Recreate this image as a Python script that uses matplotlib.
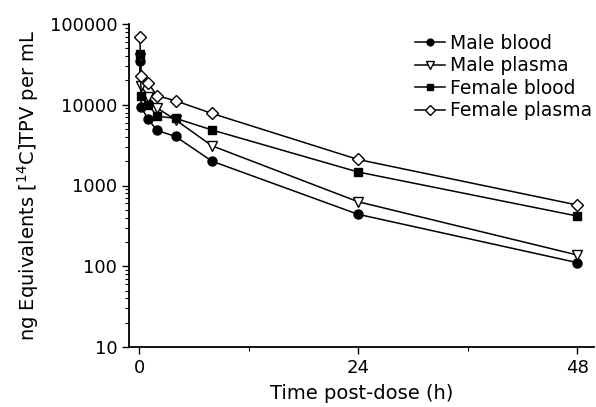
import matplotlib
matplotlib.use("Agg")
import matplotlib.pyplot as plt
from matplotlib.ticker import LogLocator, FixedLocator, NullFormatter

plt.rcParams['font.family'] = ['DejaVu Sans']

time_h = [0.083, 0.25, 1, 2, 4, 8, 24, 48]
male_blood = [35000, 9300, 6600, 4800, 4050, 2000, 440, 111]
male_plasma = [38000, 17000, 12600, 9100, 6500, 3100, 630, 138]
female_blood = [42000, 12700, 10000, 7200, 6800, 4870, 1470, 419]
female_plasma = [70000, 22500, 18500, 12900, 11200, 7800, 2100, 574]

series = [
    ("Male blood", male_blood, dict(marker='o', mfc='black', mec='black', ms=6.5)),
    ("Male plasma", male_plasma, dict(marker='v', mfc='white', mec='black', ms=7.5)),
    ("Female blood", female_blood, dict(marker='s', mfc='black', mec='black', ms=6)),
    ("Female plasma", female_plasma, dict(marker='D', mfc='white', mec='black', ms=6.5)),
]

fig = plt.figure(figsize=(5.96, 4.07), dpi=100)
ax = fig.add_axes([129/596, 1 - 347/407, (594 - 129)/596, (347 - 24)/407])

for label, vals, st in series:
    ax.plot(time_h, vals, color='black', lw=1.1, mew=1.0, label=label, **st)

ax.set_yscale('log')
ax.set_ylim(10, 100000)
ax.set_xlim(-1.096, 49.86)
ax.set_xticks([0, 24, 48])
ax.xaxis.set_minor_locator(FixedLocator([12, 36]))
ax.yaxis.set_major_locator(LogLocator(base=10))
ax.yaxis.set_minor_locator(LogLocator(base=10, subs=range(2, 10)))
ax.yaxis.set_minor_formatter(NullFormatter())
ax.yaxis.set_major_formatter(plt.FuncFormatter(lambda v, p: f"{int(round(v))}"))

for s in ['top', 'right']:
    ax.spines[s].set_visible(False)
for s in ['left', 'bottom']:
    ax.spines[s].set_linewidth(1.3)

ax.tick_params(axis='both', which='major', direction='out', length=5, width=1.0, labelsize=13)
ax.tick_params(axis='both', which='minor', direction='out', length=3, width=0.8)

ax.set_xlabel("Time post-dose (h)", fontsize=14, labelpad=5)
ax.set_ylabel(r"ng Equivalents [$^{14}$C]TPV per mL", fontsize=14, labelpad=6)

leg = ax.legend(loc='upper right', bbox_to_anchor=(592/596, 1 - 34/407),
                bbox_transform=fig.transFigure, frameon=False, fontsize=13.5,
                handlelength=1.6, handletextpad=0.25, labelspacing=0.18,
                borderaxespad=0, borderpad=0, markerscale=0.75)

fig.savefig("out.png", dpi=100)
